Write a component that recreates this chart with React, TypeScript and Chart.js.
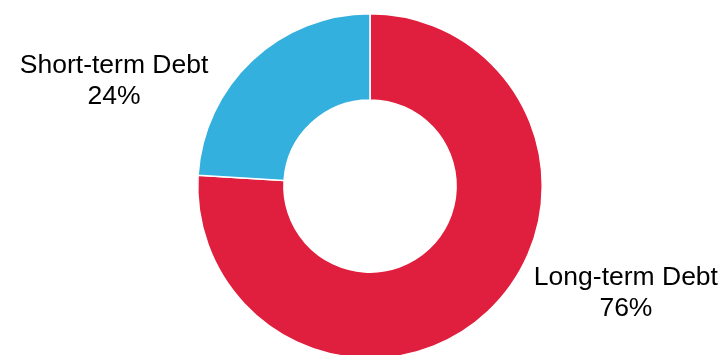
import React, { useEffect, useRef } from "react";
import { Chart, registerables } from "chart.js";

Chart.register(...registerables);

const categories = ["Long-term Debt", "Short-term Debt"];
const shares = [76, 24];
const shareLabels = ["76%", "24%"];
const colors = ["#E01E3D", "#33B0DD"];

const labelPlugin = {
  id: "outerLabels",
  afterDatasetsDraw(chart: any) {
    const ctx = chart.ctx;
    const meta = chart.getDatasetMeta(0);
    const dyList = [-20, 19];
    ctx.save();
    ctx.font = '26.5px "Liberation Sans", Arial, sans-serif';
    ctx.fillStyle = "#000000";
    ctx.textAlign = "center";
    ctx.textBaseline = "alphabetic";
    meta.data.forEach((arc: any, i: number) => {
      const p = arc.getProps(["x", "y", "startAngle", "endAngle", "outerRadius"], true);
      const mid = (p.startAngle + p.endAngle) / 2;
      const ox = p.x + Math.cos(mid) * p.outerRadius;
      const oy = p.y + Math.sin(mid) * p.outerRadius;
      const sign = Math.cos(mid) >= 0 ? 1 : -1;
      const lx = ox + sign * 138;
      const ly = oy + dyList[i];
      ctx.fillText(categories[i], lx, ly - 15.5 + 9);
      ctx.fillText(shareLabels[i], lx, ly + 15.5 + 9);
    });
    ctx.restore();
  },
};

export default function App() {
  const ref = useRef<HTMLCanvasElement>(null);
  useEffect(() => {
    if (!ref.current) return;
    const chart = new Chart(ref.current, {
      type: "doughnut",
      data: {
        labels: categories,
        datasets: [
          {
            data: shares,
            backgroundColor: colors,
            borderColor: "#ffffff",
            borderWidth: 1.5,
          },
        ],
      },
      options: {
        responsive: false,
        animation: false,
        cutout: "50%",
        layout: { padding: { top: 13, bottom: 13, left: 21, right: 0 } },
        plugins: { legend: { display: false }, tooltip: { enabled: false } },
      },
      plugins: [labelPlugin],
    });
    return () => chart.destroy();
  }, []);
  return (
    <div
      style={{
        position: "fixed",
        left: 0,
        top: 0,
        width: 719,
        height: 355,
        overflow: "hidden",
        background: "#ffffff",
      }}
    >
      <canvas ref={ref} width={719} height={372} style={{ display: "block" }} />
    </div>
  );
}
